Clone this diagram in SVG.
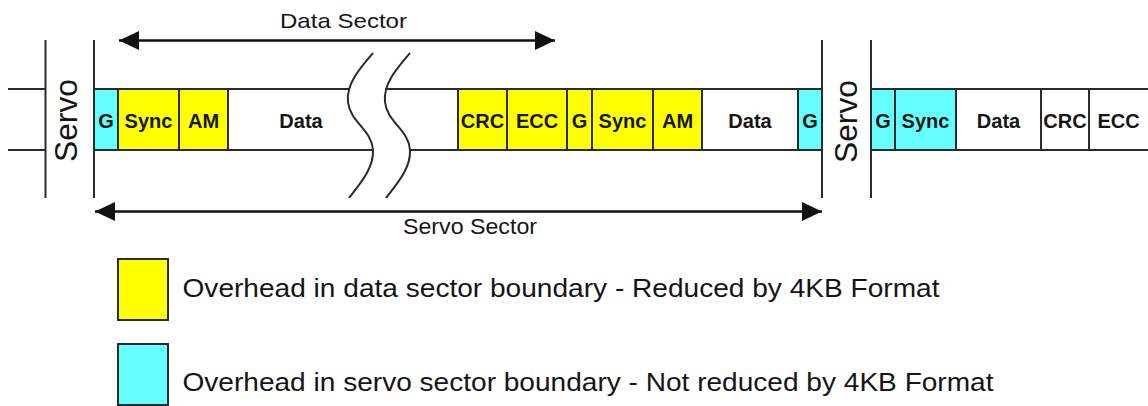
<svg xmlns="http://www.w3.org/2000/svg" width="1148" height="406" viewBox="0 0 1148 406">
<style>
.ln{stroke:#2a2a2a;stroke-width:2;fill:none}
.ar{stroke:#111;stroke-width:2.5;fill:none}
.y{fill:#ffff00;stroke:#2a2a2a;stroke-width:2}
.c{fill:#66ffff;stroke:#2a2a2a;stroke-width:2}
.w{fill:#ffffff;stroke:#2a2a2a;stroke-width:2}
.b{font-family:"Liberation Sans",Arial,sans-serif;font-weight:bold;font-size:20px;fill:#151515;text-anchor:middle}
.t{font-family:"Liberation Sans",Arial,sans-serif;fill:#151515}
</style>
<defs>
<marker id="ah" viewBox="0 0 20 19" refX="20" refY="9.5" markerWidth="20" markerHeight="19" markerUnits="userSpaceOnUse" orient="auto-start-reverse">
<path d="M0,0 L20,9.5 L0,19 Z" fill="#111"/>
</marker>
</defs>
<rect width="1148" height="406" fill="#ffffff"/>

<g id="track-lines">
<line class="ln" x1="8" y1="89" x2="45.5" y2="89"/>
<line class="ln" x1="8" y1="150" x2="45.5" y2="150"/>
<line class="ln" x1="45.5" y1="40" x2="45.5" y2="198"/>
<line class="ln" x1="94" y1="40" x2="94" y2="198"/>
<line class="ln" x1="822" y1="40" x2="822" y2="198"/>
<line class="ln" x1="871" y1="40" x2="871" y2="198"/>
<line class="ln" x1="94" y1="89" x2="349" y2="89"/>
<line class="ln" x1="385" y1="89" x2="822" y2="89"/>
<line class="ln" x1="94" y1="150" x2="373" y2="150"/>
<line class="ln" x1="410" y1="150" x2="822" y2="150"/>
<line class="ln" x1="871" y1="89" x2="1148" y2="89"/>
<line class="ln" x1="871" y1="150" x2="1148" y2="150"/>
</g>

<g id="break">
<path class="ln" d="M373,53 C360,68 346,84 348,102 C350,122 372,130 373,150 C374,168 360,184 349,198"/>
<path class="ln" d="M410,53 C397,68 383,84 385,102 C387,122 409,130 410,150 C411,168 397,184 386,198"/>
</g>

<g id="servo-left"><text class="t" font-size="31" text-anchor="middle" transform="translate(77,120.5) rotate(-90)" textLength="83" lengthAdjust="spacingAndGlyphs">Servo</text></g>
<g id="servo-right"><text class="t" font-size="31" text-anchor="middle" transform="translate(856.5,121.5) rotate(-90)" textLength="83" lengthAdjust="spacingAndGlyphs">Servo</text></g>

<g id="g1"><rect class="c" x="94" y="89" width="24" height="61"/><text class="b" x="106" y="128">G</text></g>
<g id="sync1"><rect class="y" x="118" y="89" width="61" height="61"/><text class="b" x="148.5" y="128">Sync</text></g>
<g id="am1"><rect class="y" x="179" y="89" width="49" height="61"/><text class="b" x="203.5" y="128">AM</text></g>
<g id="data1"><text class="b" x="301" y="128">Data</text></g>
<g id="crc1"><rect class="y" x="458" y="89" width="49" height="61"/><text class="b" x="482.5" y="128">CRC</text></g>
<g id="ecc1"><rect class="y" x="507" y="89" width="60" height="61"/><text class="b" x="537" y="128">ECC</text></g>
<g id="g2"><rect class="y" x="567" y="89" width="25" height="61"/><text class="b" x="579.5" y="128">G</text></g>
<g id="sync2"><rect class="y" x="592" y="89" width="61" height="61"/><text class="b" x="622.5" y="128">Sync</text></g>
<g id="am2"><rect class="y" x="653" y="89" width="49" height="61"/><text class="b" x="677.5" y="128">AM</text></g>
<g id="data2"><rect class="w" x="702" y="89" width="96" height="61"/><text class="b" x="750" y="128">Data</text></g>
<g id="g3"><rect class="c" x="798" y="89" width="24" height="61"/><text class="b" x="810" y="128">G</text></g>
<g id="g4"><rect class="c" x="871" y="89" width="24" height="61"/><text class="b" x="883" y="128">G</text></g>
<g id="sync3"><rect class="c" x="895" y="89" width="61" height="61"/><text class="b" x="925.5" y="128">Sync</text></g>
<g id="data3"><rect class="w" x="956" y="89" width="85" height="61"/><text class="b" x="998.5" y="128">Data</text></g>
<g id="crc2"><rect class="w" x="1041" y="89" width="48" height="61"/><text class="b" x="1065" y="128">CRC</text></g>
<g id="ecc2"><line class="ln" x1="1089" y1="89" x2="1089" y2="150"/><text class="b" x="1118.5" y="128">ECC</text></g>

<g id="connectors">
<line class="ar" x1="119" y1="40.5" x2="555" y2="40.5" marker-start="url(#ah)" marker-end="url(#ah)"/>
<line class="ar" x1="95" y1="211.5" x2="822" y2="211.5" marker-start="url(#ah)" marker-end="url(#ah)"/>
</g>

<g id="label-data-sector"><text class="t" x="280" y="27.5" font-size="21" textLength="127" lengthAdjust="spacingAndGlyphs">Data Sector</text></g>
<g id="label-servo-sector"><text class="t" x="403" y="234" font-size="22" textLength="134" lengthAdjust="spacingAndGlyphs">Servo Sector</text></g>

<g id="legend-yellow">
<rect class="y" x="118" y="259" width="50" height="61"/>
<text class="t" x="182.5" y="296.5" font-size="26" textLength="757" lengthAdjust="spacingAndGlyphs">Overhead in data sector boundary - Reduced by 4KB Format</text>
</g>
<g id="legend-cyan">
<rect class="c" x="118" y="344" width="50" height="61"/>
<text class="t" x="182.5" y="390.5" font-size="26" textLength="811" lengthAdjust="spacingAndGlyphs">Overhead in servo sector boundary - Not reduced by 4KB Format</text>
</g>
</svg>
